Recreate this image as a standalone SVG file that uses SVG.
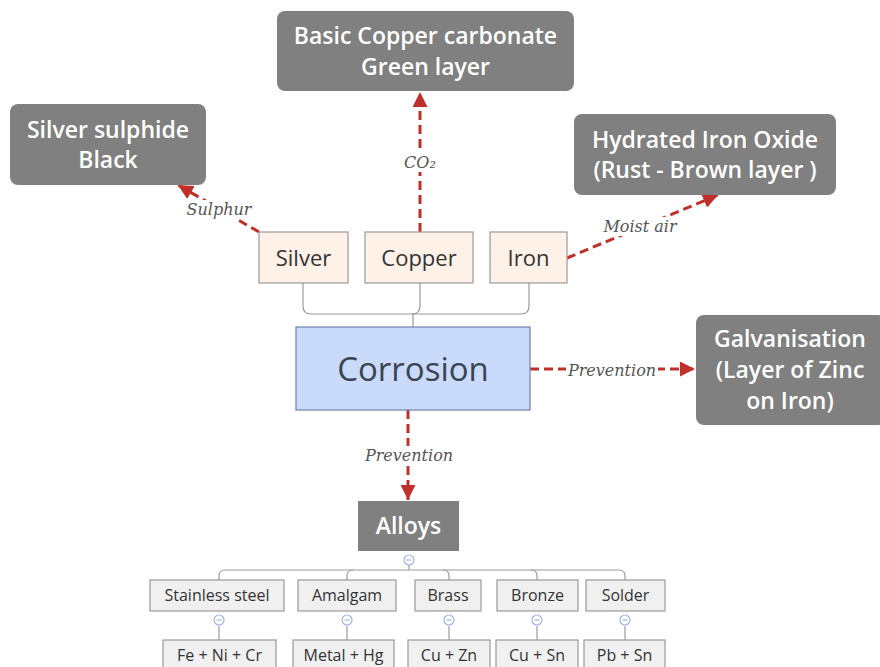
<svg xmlns="http://www.w3.org/2000/svg" width="880" height="667" viewBox="0 0 880 667">
<defs>
<marker id="arr" viewBox="0 0 10 10" refX="10" refY="5" markerWidth="5" markerHeight="5" orient="auto" markerUnits="strokeWidth">
<path d="M0,0 L10,5 L0,10 z" fill="#c0302b"/>
</marker>
<style>
.dark{fill:#808080;}
.dt{font-family:"Open Sans","Liberation Sans",sans-serif;font-weight:600;font-size:23px;fill:#ffffff;text-anchor:middle;}
.metal{fill:#fdf1e8;stroke:#9a9a9a;stroke-width:1.2;}
.mt{font-family:"Open Sans","Liberation Sans",sans-serif;font-size:22px;fill:#333;text-anchor:middle;}
.child{fill:#f0f0f0;stroke:#999;stroke-width:1.2;}
.ct{font-family:"Open Sans","Liberation Sans",sans-serif;font-size:16px;fill:#333;text-anchor:middle;}
.red{fill:none;stroke:#c0302b;stroke-width:3;stroke-dasharray:9,5;marker-end:url(#arr);}
.lbl{font-family:"DejaVu Serif","Liberation Serif",serif;font-style:italic;font-size:16px;fill:#555;text-anchor:middle;}
.lblbg{fill:#ffffff;}
.tree{fill:none;stroke:#9a9a9a;stroke-width:1.2;}
.col{fill:#ffffff;stroke:#9fb4e0;stroke-width:1.2;}
.colm{stroke:#9fb4e0;stroke-width:1.2;}
</style>
</defs>
<rect width="880" height="667" fill="#ffffff"/>

<g id="connectors">
<path class="tree" d="M303,283 V306 Q303,314 311,314 H521 Q529,314 529,306 V283"/>
<path class="tree" d="M420,283 V306 Q420,314 412,314"/>
<path class="tree" d="M413,314 V327"/>
<line class="red" x1="259" y1="232" x2="178" y2="185"/>
<line class="red" x1="420" y1="232" x2="420" y2="92"/>
<line class="red" x1="567" y1="258" x2="718" y2="195"/>
<line class="red" x1="530" y1="369" x2="695" y2="369"/>
<line class="red" x1="408" y1="410" x2="408" y2="500"/>
<rect class="lblbg" x="184" y="200" width="70" height="19"/>
<text class="lbl" x="219" y="215">Sulphur</text>
<rect class="lblbg" x="403" y="152" width="34" height="20"/>
<text class="lbl" x="420" y="168">CO₂</text>
<rect class="lblbg" x="601" y="217" width="78" height="19"/>
<text class="lbl" x="640" y="232">Moist air</text>
<rect class="lblbg" x="566" y="361" width="92" height="19"/>
<text class="lbl" x="612" y="376">Prevention</text>
<rect class="lblbg" x="363" y="446" width="92" height="19"/>
<text class="lbl" x="409" y="461">Prevention</text>
<path class="tree" d="M409,565 V570"/>
<path class="tree" d="M219,580 V576 Q219,570 225,570 H619 Q625,570 625,576 V580"/>
<path class="tree" d="M347,580 V576 Q347,570 353,570"/>
<path class="tree" d="M449,580 V576 Q449,570 443,570"/>
<path class="tree" d="M537,580 V576 Q537,570 531,570"/>
<path class="tree" d="M219,626 V640"/>
<path class="tree" d="M347,626 V640"/>
<path class="tree" d="M449,626 V640"/>
<path class="tree" d="M537,626 V640"/>
<path class="tree" d="M625,626 V640"/>
</g>

<g id="basic-copper-carbonate">
<rect class="dark" x="277" y="11" width="297" height="80" rx="8"/>
<text class="dt" x="425.5" y="44">Basic Copper carbonate</text>
<text class="dt" x="425.5" y="75">Green layer</text>
</g>
<g id="silver-sulphide">
<rect class="dark" x="10" y="104" width="196" height="81" rx="8"/>
<text class="dt" x="108" y="138">Silver sulphide</text>
<text class="dt" x="108" y="168">Black</text>
</g>
<g id="hydrated-iron-oxide">
<rect class="dark" x="574" y="114" width="262" height="81" rx="8"/>
<text class="dt" x="705" y="148">Hydrated Iron Oxide</text>
<text class="dt" x="705" y="178">(Rust - Brown layer )</text>
</g>
<g id="galvanisation">
<rect class="dark" x="696" y="315" width="190" height="110" rx="8"/>
<text class="dt" x="790" y="347">Galvanisation</text>
<text class="dt" x="790" y="378">(Layer of Zinc</text>
<text class="dt" x="790" y="409">on Iron)</text>
</g>
<g id="silver">
<rect class="metal" x="259" y="232" width="89" height="51"/>
<text class="mt" x="303.5" y="266">Silver</text>
</g>
<g id="copper">
<rect class="metal" x="365" y="232" width="108" height="51"/>
<text class="mt" x="419" y="266">Copper</text>
</g>
<g id="iron">
<rect class="metal" x="490" y="232" width="77" height="51"/>
<text class="mt" x="528.5" y="266">Iron</text>
</g>
<g id="corrosion">
<rect x="296" y="327" width="234" height="83" fill="#c9dafa" stroke="#6d83ab" stroke-width="1.2"/>
<text x="413" y="381" font-family="'Open Sans','Liberation Sans',sans-serif" font-size="33" fill="#3a4452" text-anchor="middle">Corrosion</text>
</g>
<g id="alloys">
<rect class="dark" x="358" y="501" width="101" height="50"/>
<text class="dt" x="408.5" y="534">Alloys</text>
<circle class="col" cx="409" cy="560" r="5"/>
<line class="colm" x1="406.5" y1="560" x2="411.5" y2="560"/>
</g>
<g id="stainless-steel">
<rect class="child" x="150" y="580" width="134" height="31"/>
<text class="ct" x="217" y="601">Stainless steel</text>
<circle class="col" cx="219" cy="620" r="5"/>
<line class="colm" x1="216.5" y1="620" x2="221.5" y2="620"/>
</g>
<g id="amalgam">
<rect class="child" x="298" y="580" width="98" height="31"/>
<text class="ct" x="347" y="601">Amalgam</text>
<circle class="col" cx="347" cy="620" r="5"/>
<line class="colm" x1="344.5" y1="620" x2="349.5" y2="620"/>
</g>
<g id="brass">
<rect class="child" x="415" y="580" width="66" height="31"/>
<text class="ct" x="448" y="601">Brass</text>
<circle class="col" cx="449" cy="620" r="5"/>
<line class="colm" x1="446.5" y1="620" x2="451.5" y2="620"/>
</g>
<g id="bronze">
<rect class="child" x="497" y="580" width="81" height="31"/>
<text class="ct" x="537.5" y="601">Bronze</text>
<circle class="col" cx="537" cy="620" r="5"/>
<line class="colm" x1="534.5" y1="620" x2="539.5" y2="620"/>
</g>
<g id="solder">
<rect class="child" x="586" y="580" width="79" height="31"/>
<text class="ct" x="625.5" y="601">Solder</text>
<circle class="col" cx="625" cy="620" r="5"/>
<line class="colm" x1="622.5" y1="620" x2="627.5" y2="620"/>
</g>
<g id="fe-ni-cr">
<rect class="child" x="163" y="640" width="113" height="40"/>
<text class="ct" x="219.5" y="661">Fe + Ni + Cr</text>
</g>
<g id="metal-hg">
<rect class="child" x="293" y="640" width="101" height="40"/>
<text class="ct" x="343.5" y="661">Metal + Hg</text>
</g>
<g id="cu-zn">
<rect class="child" x="408" y="640" width="82" height="40"/>
<text class="ct" x="449" y="661">Cu + Zn</text>
</g>
<g id="cu-sn">
<rect class="child" x="496" y="640" width="82" height="40"/>
<text class="ct" x="537" y="661">Cu + Sn</text>
</g>
<g id="pb-sn">
<rect class="child" x="584" y="640" width="81" height="40"/>
<text class="ct" x="624.5" y="661">Pb + Sn</text>
</g>
</svg>
